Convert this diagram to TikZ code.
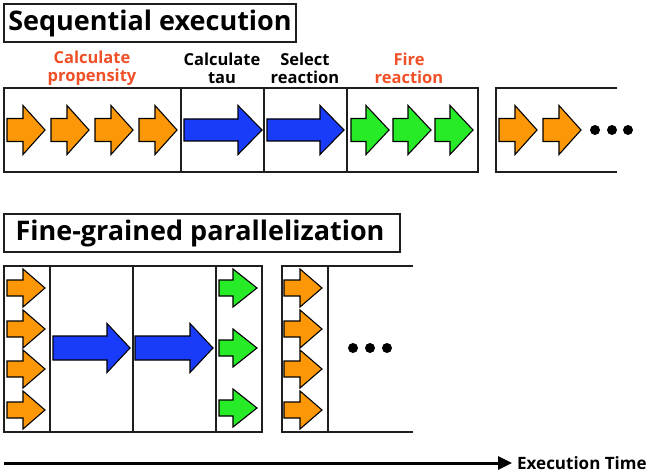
\documentclass[tikz,border=0pt]{standalone}
\usepackage{fontspec}
\setmainfont{Open Sans}
\usetikzlibrary{arrows.meta}
\definecolor{arrorange}{RGB}{252,152,8}
\definecolor{arrblue}{RGB}{25,60,250}
\definecolor{arrgreen}{RGB}{40,235,40}
\definecolor{labred}{RGB}{240,80,40}
\definecolor{linegray}{RGB}{30,30,30}
% #1 fill, #2 tail x, #3 centre y, #4 length, #5 head length, #6 shaft half, #7 head half
\newcommand\blockarrow[7]{%
  \draw[arrowline, fill=#1]
    (#2,#3-#6) -- (#2+#4-#5,#3-#6) -- (#2+#4-#5,#3-#7) -- (#2+#4,#3)
    -- (#2+#4-#5,#3+#7) -- (#2+#4-#5,#3+#6) -- (#2,#3+#6) -- cycle;}
\tikzset{
  arrowline/.style={draw=black, line width=1.1pt, line join=miter},
  boxline/.style={draw=linegray, line width=1.4pt},
  titlefont/.style={font=\fontsize{27}{30}\selectfont\bfseries},
  steplabel/.style={align=center, font=\fontsize{16.5}{18}\selectfont\bfseries},
  dotstyle/.style={fill=black, draw=none},
}
\begin{document}
\begin{tikzpicture}[x=1pt, y=-1pt]
\useasboundingbox (0,0) rectangle (661,476);
% titles
\draw[boxline] (4,4) rectangle (296,42);
\node[titlefont] (t1) at (150,23) {Sequential execution};
\draw[boxline] (4,214) rectangle (400,252);
\node[titlefont] (t2) at (200,233) {Fine-grained parallelization};
% labels
\node[steplabel, text=labred] (l1) at (92,68) {Calculate\\propensity};
\node[steplabel] (l2) at (222,68) {Calculate\\tau};
\node[steplabel] (l3) at (305,68) {Select\\reaction};
\node[steplabel, text=labred] (l4) at (409,68) {Fire\\reaction};
% top boxes
\draw[boxline] (4,88) rectangle (478,172);
\draw[boxline] (181,88) -- (181,172);
\draw[boxline] (264,88) -- (264,172);
\draw[boxline] (347,88) -- (347,172);
\draw[boxline] (617,88) -- (496,88) -- (496,172) -- (617,172);
% top arrows
\foreach \t in {7,51,95,139} {\blockarrow{arrorange}{\t}{130}{38}{22}{11.5}{24.5}}
\blockarrow{arrblue}{184}{130}{78}{24}{11}{24.5}
\blockarrow{arrblue}{267}{130}{77}{24}{11}{24.5}
\foreach \t in {351,393,435} {\blockarrow{arrgreen}{\t}{130}{38}{23}{11.5}{24.5}}
\foreach \t in {499,543} {\blockarrow{arrorange}{\t}{130}{38}{22}{11.5}{24.5}}
\foreach \x in {595,612,628} {\fill[dotstyle] (\x,130) circle (5);}
% bottom boxes
\draw[boxline] (4,266) rectangle (262,432);
\draw[boxline] (50,266) -- (50,432);
\draw[boxline] (133,266) -- (133,432);
\draw[boxline] (216,266) -- (216,432);
\draw[boxline] (413,266) -- (282,266) -- (282,432) -- (413,432);
\draw[boxline] (328,266) -- (328,432);
% bottom arrows
\foreach \c in {288,329,369,410} {\blockarrow{arrorange}{7}{\c}{38}{22}{8}{19}}
\blockarrow{arrblue}{53}{348}{77}{23}{12}{24.5}
\blockarrow{arrblue}{135}{348}{78}{23}{12}{24.5}
\foreach \c in {288,348,408} {\blockarrow{arrgreen}{219}{\c}{38}{24}{8}{19}}
\foreach \c in {288,329,369,410} {\blockarrow{arrorange}{284}{\c}{38}{22}{8}{19}}
\foreach \x in {353,370,387} {\fill[dotstyle] (\x,348) circle (5);}
% time axis
\coordinate (tstart) at (4,463);
\coordinate (tend) at (512,463);
\node[anchor=west, inner sep=0pt, font=\fontsize{17}{19}\selectfont\bfseries] (tl) at (517,463) {Execution Time};
\draw[line width=3pt, -{Triangle[length=14pt,width=13pt]}] (tstart) -- (tend);
\end{tikzpicture}
\end{document}
